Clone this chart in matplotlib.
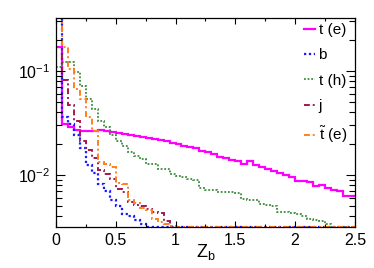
import numpy as np
import matplotlib
matplotlib.use("Agg")
import matplotlib.pyplot as plt
from matplotlib.ticker import FixedLocator, LogLocator, NullFormatter

plt.rcParams['font.family'] = ['Liberation Sans', 'DejaVu Sans']
plt.rcParams['mathtext.fontset'] = 'custom'
plt.rcParams['mathtext.rm'] = 'Liberation Sans'
plt.rcParams['mathtext.it'] = 'Liberation Sans:italic'

# 50 bins of width 0.05 on 0..2.5 (normalised entries)
edges = np.linspace(0, 2.5, 51)

t_e = [0.170, 0.031, 0.029, 0.027, 0.0265, 0.0265,
       0.0265, 0.027, 0.0265, 0.026,
       0.0255, 0.025, 0.024, 0.0235, 0.023,
       0.0225, 0.022, 0.0215, 0.021, 0.0205,
       0.020, 0.019, 0.0185, 0.018, 0.017,
       0.0165, 0.016, 0.015, 0.0145, 0.014,
       0.0135, 0.0128, 0.0135, 0.0125, 0.012,
       0.0115, 0.011, 0.0105, 0.010, 0.0095,
       0.0088, 0.0087, 0.0085, 0.0078, 0.0080,
       0.0075, 0.0072, 0.0070, 0.0063, 0.0063]

b = [0.5, 0.0358, 0.031, 0.0245, 0.0183, 0.0125, 0.0105, 0.0082, 0.0070, 0.0058,
     0.0050, 0.0042, 0.0040, 0.0037, 0.0034] + [0] * 35

t_h = [0.109, 0.122, 0.122, 0.098, 0.072, 0.0535, 0.043, 0.033, 0.029, 0.024,
       0.021, 0.019, 0.0167, 0.0153, 0.0143, 0.0128, 0.0128, 0.0114, 0.0114, 0.0102,
       0.0098, 0.0096, 0.0092, 0.0089, 0.0075, 0.0072, 0.0071, 0.0069, 0.0068, 0.0068,
       0.0067, 0.0059, 0.0058, 0.0057, 0.0053, 0.0052, 0.0050, 0.0044, 0.0044, 0.0043,
       0.0042, 0.0040, 0.0038, 0.0037, 0.0036, 0.0034, 0, 0, 0, 0]

j = [0.5, 0.082, 0.0468, 0.0327, 0.0214, 0.0175, 0.0146, 0.0112, 0.0102, 0.0091,
     0.0073, 0.0068, 0.0055, 0.0052, 0.0050, 0.0047, 0.0044, 0.0043, 0.0036, 0.0032] + [0] * 30

st_e = [0.5, 0.170, 0.105, 0.067, 0.054, 0.036, 0.0262, 0.0134, 0.0128, 0.0120,
        0.0084, 0.0082, 0.0057, 0.0054, 0.0048, 0.0046, 0.0038, 0.0035, 0.0034, 0.0032] + [0] * 30

labels = ["t (e)", "b", "t (h)", "j", r"$\mathrm{\tilde{t}}$ (e)"]
xticks = [0, 0.5, 1, 1.5, 2, 2.5]
xtick_labels = ["0", "0.5", "1", "1.5", "2", "2.5"]

ymin, ymax = 10 ** -2.5, 10 ** -0.49

fig = plt.figure(figsize=(3.74, 2.68), dpi=100)
ax = fig.add_axes([0.1497, 0.153, 0.799, 0.780])

styles = [
    dict(color='#ff00ff', lw=1.6, ls='-'),
    dict(color='#1a1aff', lw=1.6, ls=(0, (1, 1.2))),
    dict(color='#3c8c3c', lw=1.3, ls=(0, (1, 1))),
    dict(color='#a3174d', lw=1.4, ls=(0, (3, 1.5, 1, 1.5))),
    dict(color='#ff7f1e', lw=1.4, ls=(0, (3, 1.5, 1, 1.5))),
]

for vals, lab, st in zip([t_e, b, t_h, j, st_e], labels, styles):
    v = np.asarray(vals, dtype=float)
    v = np.where(v > 0, v, ymin)   # empty bins sit on the floor, ROOT-like
    ax.stairs(v, edges, baseline=None, label=lab, **st)

ax.set_yscale('log')
ax.set_xlim(0, 2.5)
ax.set_ylim(ymin, ymax)

ax.xaxis.set_major_locator(FixedLocator(xticks))
ax.set_xticklabels(xtick_labels)
ax.xaxis.set_minor_locator(FixedLocator([0.25, 0.75, 1.25, 1.75, 2.25]))
ax.yaxis.set_minor_locator(LogLocator(base=10, subs=np.arange(2, 10)))
ax.yaxis.set_minor_formatter(NullFormatter())

ax.tick_params(which='both', direction='in', top=True, right=True, labelsize=11.5)
ax.tick_params(axis='x', which='major', length=4.5, width=0.8, pad=4)
ax.tick_params(axis='x', which='minor', length=2.5, width=0.8)
ax.tick_params(axis='y', which='major', length=6.5, width=0.8, pad=4)
ax.tick_params(axis='y', which='minor', length=4, width=0.8)
for sp in ax.spines.values():
    sp.set_linewidth(0.9)

ax.set_xlabel(r"Z$_{\mathrm{b}}$", fontsize=13, labelpad=-4)

ax.legend(loc='upper left', bbox_to_anchor=(0.83, 0.975), frameon=False,
          fontsize=11, handlelength=0.7, handletextpad=0.25,
          labelspacing=0.74, borderpad=0, borderaxespad=0)

fig.savefig("out.png", dpi=100)
